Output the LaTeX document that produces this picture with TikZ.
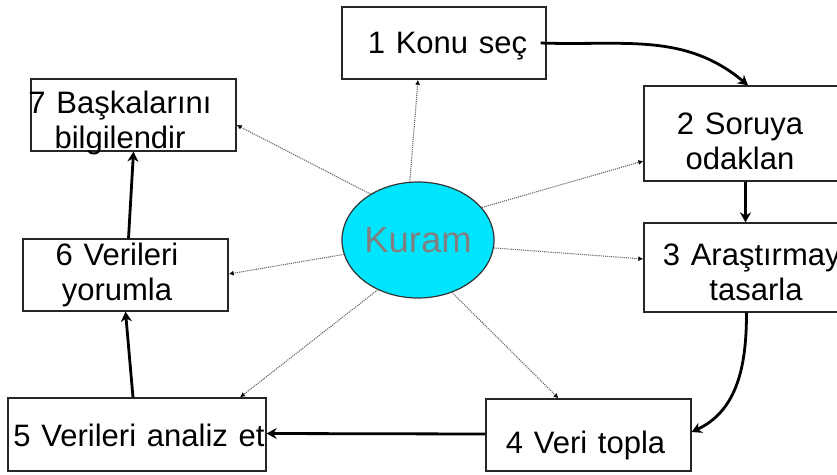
\documentclass[tikz,border=0pt]{standalone}
\usepackage{fontspec}
\setmainfont{Liberation Sans}[WordSpace=1.25]
\usetikzlibrary{arrows.meta,shapes.geometric}
\definecolor{kcyan}{RGB}{0,229,255}
\definecolor{kgray}{RGB}{128,128,128}
\newcommand{\twol}[2]{\begin{tabular}[t]{@{}c@{}}#1\\#2\end{tabular}}
\begin{document}
\begin{tikzpicture}[x=1pt,y=1pt,
  box/.style={draw=black!85, line width=1.3pt, rectangle, inner sep=0pt},
  lbl/.style={font=\fontsize{31}{35}\selectfont, inner sep=0pt, anchor=base, text=black},
  flow/.style={line width=2.8pt, -{Stealth[length=10pt,width=11pt]}},
  ray/.style={draw=black!60, line width=1.1pt, densely dotted, -{Latex[length=5pt,width=5pt,black]}},
  core/.style={ellipse, draw=black!80, line width=1.2pt, fill=kcyan, minimum width=136pt, minimum height=116pt, inner sep=0pt, text=kgray, font=\fontsize{36.5}{40}\selectfont}
]
\useasboundingbox (0,0) rectangle (837,-474);

\node[box, minimum width=204pt, minimum height=72pt] (b1) at (444,-43) {};
\node[box, minimum width=195pt, minimum height=95pt] (b2) at (741.5,-133.5) {};
\node[box, minimum width=195pt, minimum height=89pt] (b3) at (741.5,-267.5) {};
\node[box, minimum width=205pt, minimum height=72pt] (b4) at (588.5,-435) {};
\node[box, minimum width=258pt, minimum height=73pt] (b5) at (137,-434.5) {};
\node[box, minimum width=205pt, minimum height=72pt] (b6) at (125.5,-275) {};
\node[box, minimum width=205pt, minimum height=72pt] (b7) at (133.5,-115) {};

\node[core] (k) at (418,-240) {Kuram};

\node[lbl] (t1) at (447.5,-53) {1 Konu seç};
\node[lbl] (t2) at (740,-134) {\twol{2 Soruya}{odaklan}};
\node[lbl] (t3) at (756,-265) {\twol{3 Araştırmayı}{tasarla}};
\node[lbl] (t4) at (585.5,-453) {4 Veri topla};
\node[lbl] (t5) at (139,-446) {5 Verileri analiz et};
\node[lbl] (t6) at (117,-265) {\twol{6 Verileri}{yorumla}};
\node[lbl] (t7) at (120,-113) {\twol{7 Başkalarını}{bilgilendir}};

\draw[flow] ([xshift=-6pt]b1.east) to[out=-2,in=140] ([xshift=6.5pt]b2.north);
\draw[flow] ([xshift=4pt]b2.south) -- ([xshift=4pt]b3.north);
\draw[flow] ([xshift=5pt]b3.south) to[out=-90,in=25] ([yshift=3pt]b4.east);
\draw[flow] ([yshift=1pt]b4.west) -- ([yshift=1pt]b5.east);
\draw[flow] ([xshift=-4pt]b5.north) -- (b6.south);
\draw[flow] ([xshift=3pt]b6.north) -- (b7.south);

\draw[ray] (k.98) -- ([xshift=-26pt]b1.south);
\draw[ray] (k.27) -- ([yshift=-27.5pt]b2.west);
\draw[ray] (k.-6) -- ([yshift=8.5pt]b3.west);
\draw[ray] (k.-57) -- ([xshift=-30pt]b4.north);
\draw[ray] (k.231) -- ([xshift=103pt]b5.north);
\draw[ray] (k.191) -- ([yshift=1pt]b6.east);
\draw[ray] (k.136) -- ([yshift=-10pt]b7.east);
\end{tikzpicture}
\end{document}
